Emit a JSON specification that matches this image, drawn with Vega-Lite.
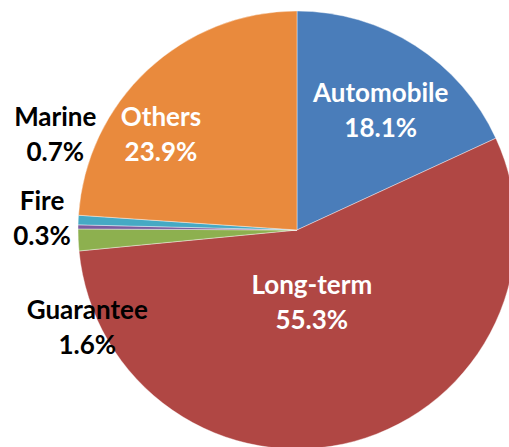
{
  "$schema": "https://vega.github.io/schema/vega-lite/v6.json",
  "autosize": {"type": "none"},
  "padding": 0,
  "width": 594,
  "height": 460,
  "background": "white",
  "config": {"view": {"stroke": null}, "text": {"font": "Lato", "fontWeight": "bold", "fontSize": 26, "lineBreak": "\n", "lineHeight": 35}},
  "data": {"values": [
    {"category": "Automobile", "share": 18.1, "order": 1},
    {"category": "Long-term", "share": 55.3, "order": 2},
    {"category": "Guarantee", "share": 1.6, "order": 3},
    {"category": "Fire", "share": 0.3, "order": 4},
    {"category": "Marine", "share": 0.7, "order": 5},
    {"category": "Others", "share": 23.9, "order": 6}
  ]},
  "transform": [{"calculate": "datum.category + '\\n' + format(datum.share, '.1f') + '%'", "as": "label"}],
  "encoding": {
    "theta": {"field": "share", "type": "quantitative", "stack": true},
    "order": {"field": "order", "type": "quantitative"},
    "detail": {"field": "category"}
  },
  "layer": [
    {
      "mark": {"type": "arc", "outerRadius": 219, "stroke": "white", "strokeWidth": 0.4},
      "encoding": {
        "color": {"field": "category", "type": "nominal", "legend": null,
          "scale": {"domain": ["Automobile", "Long-term", "Guarantee", "Fire", "Marine", "Others"],
                    "range": ["#4A7DBA", "#B04744", "#8DB04F", "#7B5B9E", "#46A9C4", "#E98A3D"]}}
      }
    },
    {
      "mark": {"type": "text", "radius": 146, "dx": 5, "dy": -13, "color": "white"},
      "encoding": {"text": {"condition": {"test": "datum.category === 'Automobile'", "field": "label"}, "value": ""}}
    },
    {
      "mark": {"type": "text", "radius": 72, "dx": -4, "dy": -14, "color": "white"},
      "encoding": {"text": {"condition": {"test": "datum.category === 'Long-term'", "field": "label"}, "value": ""}}
    },
    {
      "mark": {"type": "text", "radius": 170, "dx": -20, "dy": 12, "color": "white"},
      "encoding": {"text": {"condition": {"test": "datum.category === 'Others'", "field": "label"}, "value": ""}}
    },
    {
      "mark": {"type": "text", "radius": 259, "dx": 17, "dy": -100, "color": "black"},
      "encoding": {"text": {"condition": {"test": "datum.category === 'Marine'", "field": "label"}, "value": ""}}
    },
    {
      "mark": {"type": "text", "radius": 255, "dx": 0, "dy": -24, "color": "black"},
      "encoding": {"text": {"condition": {"test": "datum.category === 'Fire'", "field": "label"}, "value": ""}}
    },
    {
      "mark": {"type": "text", "radius": 240, "dx": 30, "dy": 70, "color": "black"},
      "encoding": {"text": {"condition": {"test": "datum.category === 'Guarantee'", "field": "label"}, "value": ""}}
    }
  ]
}
